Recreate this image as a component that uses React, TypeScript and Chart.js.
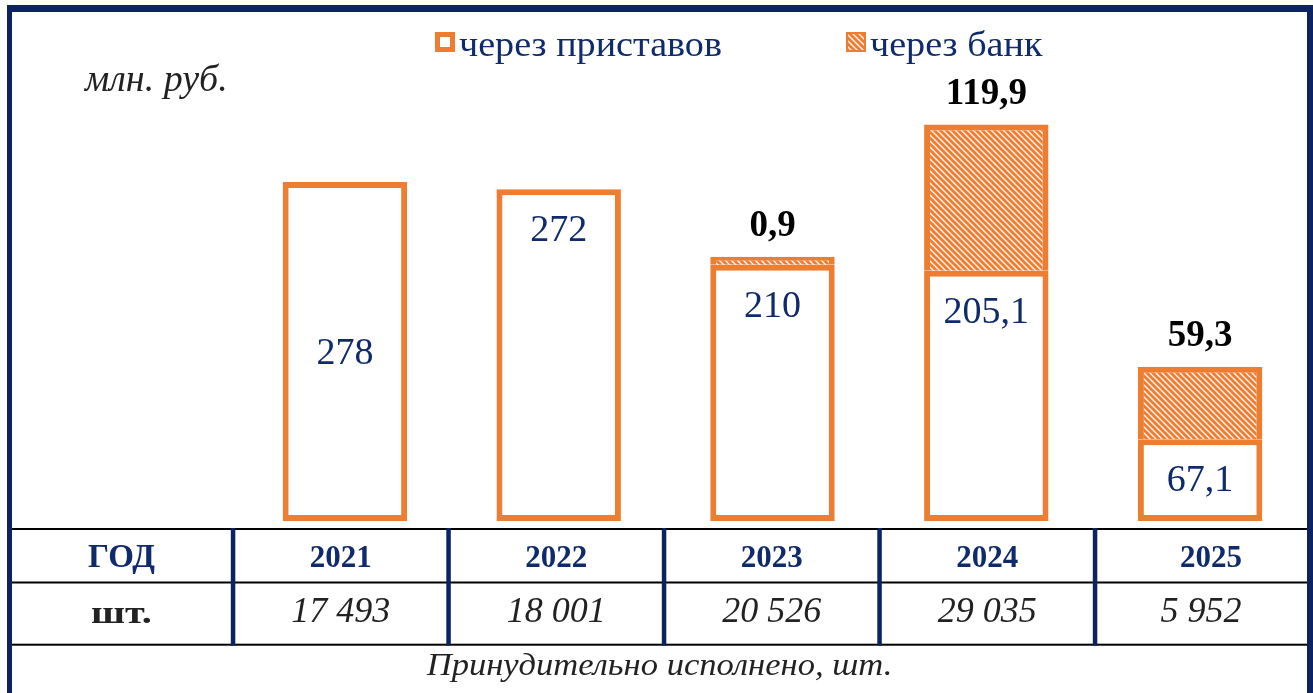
import React, { useEffect, useRef } from 'react';
import { Chart, registerables } from 'chart.js';

Chart.register(...registerables);

// ---- data ----
const years = ['2021', '2022', '2023', '2024', '2025'];
const viaBailiffs = [278, 272, 210, 205.1, 67.1];
const viaBank: (number | null)[] = [null, null, 0.9, 119.9, 59.3];
const executedCounts = ['17 493', '18 001', '20 526', '29 035', '5 952'];
const seriesNames = ['через приставов', 'через банк'];
const unitLabel = 'млн. руб.';
const rowHeaderYear = 'ГОД';
const rowHeaderCount = 'шт.';
const footerText = 'Принудительно исполнено, шт.';

// ---- style ----
const NAVY = '#0b2361';
const TEXT_NAVY = '#0f2b6b';
const ORANGE = '#ED7D31';
const SERIF = '"Liberation Serif", "Times New Roman", serif';

const fmt = (v: number) => String(v).replace('.', ',');

function makeHatch(): CanvasPattern | string {
  const s = 6;
  const c = document.createElement('canvas');
  c.width = s;
  c.height = s;
  const g = c.getContext('2d');
  if (!g) return ORANGE;
  g.fillStyle = '#ffffff';
  g.fillRect(0, 0, s, s);
  g.strokeStyle = ORANGE;
  g.lineWidth = 3;
  g.beginPath();
  for (const o of [-s, 0, s]) {
    g.moveTo(o - 1, -1);
    g.lineTo(o + s + 1, s + 1);
  }
  g.stroke();
  return g.createPattern(c, 'repeat') || ORANGE;
}

function drawText(
  ctx: CanvasRenderingContext2D,
  text: string,
  x: number,
  y: number,
  font: string,
  color: string,
  align: CanvasTextAlign = 'center',
  sx = 1
) {
  ctx.save();
  ctx.font = font;
  ctx.fillStyle = color;
  ctx.textAlign = align;
  ctx.textBaseline = 'alphabetic';
  ctx.translate(x, y);
  ctx.scale(sx, 1);
  ctx.fillText(text, 0, 0);
  ctx.restore();
}

const decorPlugin = {
  id: 'decor',
  afterDraw(chart: any) {
    const ctx: CanvasRenderingContext2D = chart.ctx;
    const W = chart.width;
    const H = chart.height;
    ctx.save();

    // frame
    ctx.fillStyle = NAVY;
    ctx.fillRect(7, 5, W - 7, 7);
    ctx.fillRect(7, 5, 5, H - 5);
    ctx.fillRect(1307, 5, W - 1307, H - 5);

    // table
    const tableLeft = 12;
    const tableRight = 1307;
    const firstEdge = 233;
    const colW = 215.5;
    const rowTop = 529;
    const rowMid = 582.5;
    const rowBot = 644.7;
    ctx.fillStyle = '#000';
    for (const yy of [rowTop, rowMid, rowBot]) {
      ctx.fillRect(tableLeft, yy - 1, tableRight - tableLeft, 2);
    }
    ctx.fillStyle = NAVY;
    for (let k = 0; k < years.length; k++) {
      const ex = firstEdge + colW * k;
      ctx.fillRect(ex - 2.2, rowTop - 1, 4.5, rowBot - rowTop + 2);
    }

    // header col
    const hx = 121.5;
    drawText(ctx, rowHeaderYear, hx, 567, `bold 33px ${SERIF}`, TEXT_NAVY);
    drawText(ctx, rowHeaderCount, hx, 623, `bold 31px ${SERIF}`, '#222', 'center', 1.3);

    for (let k = 0; k < years.length; k++) {
      const left = firstEdge + colW * k;
      const right = k === years.length - 1 ? tableRight : left + colW;
      const cx = (left + right) / 2;
      drawText(ctx, years[k], cx + (k === years.length - 1 ? 10 : 0), 567, `bold 31px ${SERIF}`, TEXT_NAVY);
      drawText(ctx, executedCounts[k], cx, 622, `italic 36px ${SERIF}`, '#222');
    }
    drawText(ctx, footerText, 659.5, 675, `italic 32px ${SERIF}`, '#222', 'center', 1.08);

    // unit label
    drawText(ctx, unitLabel, 85, 91, `italic 38px ${SERIF}`, '#222', 'left');

    // legend
    const ds = chart.data.datasets;
    const legendX = [435, 846];
    for (let i = 0; i < 2; i++) {
      const lx = legendX[i];
      const top = 32;
      const sz = 20;
      ctx.fillStyle = ORANGE;
      ctx.fillRect(lx, top, sz, sz);
      if (i === 0) {
        ctx.fillStyle = '#fff';
        ctx.fillRect(lx + 5, top + 5, sz - 10, sz - 10);
      } else {
        ctx.fillStyle = ds[1].backgroundColor;
        ctx.fillRect(lx + 2, top + 2, sz - 4, sz - 4);
      }
      drawText(ctx, ds[i].label, lx + sz + 4, 56, `35px ${SERIF}`, TEXT_NAVY, 'left', 1.09);
    }

    // bar labels
    const m0 = chart.getDatasetMeta(0);
    const m1 = chart.getDatasetMeta(1);
    for (let k = 0; k < years.length; k++) {
      const el = m0.data[k];
      const v = viaBailiffs[k];
      const ly = k === 0 ? (el.y + el.base) / 2 + 13 : el.y + 52;
      drawText(ctx, fmt(v), el.x, ly, `38px ${SERIF}`, TEXT_NAVY);
      const b = viaBank[k];
      if (b !== null && b !== undefined) {
        const el1 = m1.data[k];
        drawText(ctx, fmt(b), el1.x, el1.y - 21, `bold 37px ${SERIF}`, '#000');
      }
    }
    ctx.restore();
  },
};

export default function App() {
  const ref = useRef<HTMLCanvasElement | null>(null);
  useEffect(() => {
    if (!ref.current) return;
    const hatch = makeHatch();
    const chart = new Chart(ref.current, {
      type: 'bar',
      data: {
        labels: years,
        datasets: [
          {
            label: seriesNames[0],
            data: viaBailiffs,
            backgroundColor: '#ffffff',
            borderColor: ORANGE,
            borderWidth: 6,
            borderSkipped: false,
            stack: 's',
            barPercentage: 1,
            categoryPercentage: 0.582,
          },
          {
            label: seriesNames[1],
            data: viaBank,
            backgroundColor: hatch as any,
            borderColor: ORANGE,
            borderWidth: 6,
            borderSkipped: 'bottom',
            stack: 's',
            minBarLength: 8,
            barPercentage: 1,
            categoryPercentage: 0.582,
          },
        ],
      } as any,
      options: {
        responsive: false,
        animation: false,
        devicePixelRatio: 1,
        layout: { padding: { left: 238, right: 6, top: 20, bottom: 172 } },
        scales: {
          x: { display: false, stacked: true },
          y: { display: false, stacked: true, min: 0, max: 410.7 },
        },
        plugins: { legend: { display: false }, tooltip: { enabled: false } },
      },
      plugins: [decorPlugin],
    } as any);
    return () => chart.destroy();
  }, []);
  return (
    <div style={{ position: 'fixed', left: 0, top: 0, width: 1313, height: 693, background: '#fff' }}>
      <canvas ref={ref} width={1313} height={693} style={{ display: 'block' }} />
    </div>
  );
}
